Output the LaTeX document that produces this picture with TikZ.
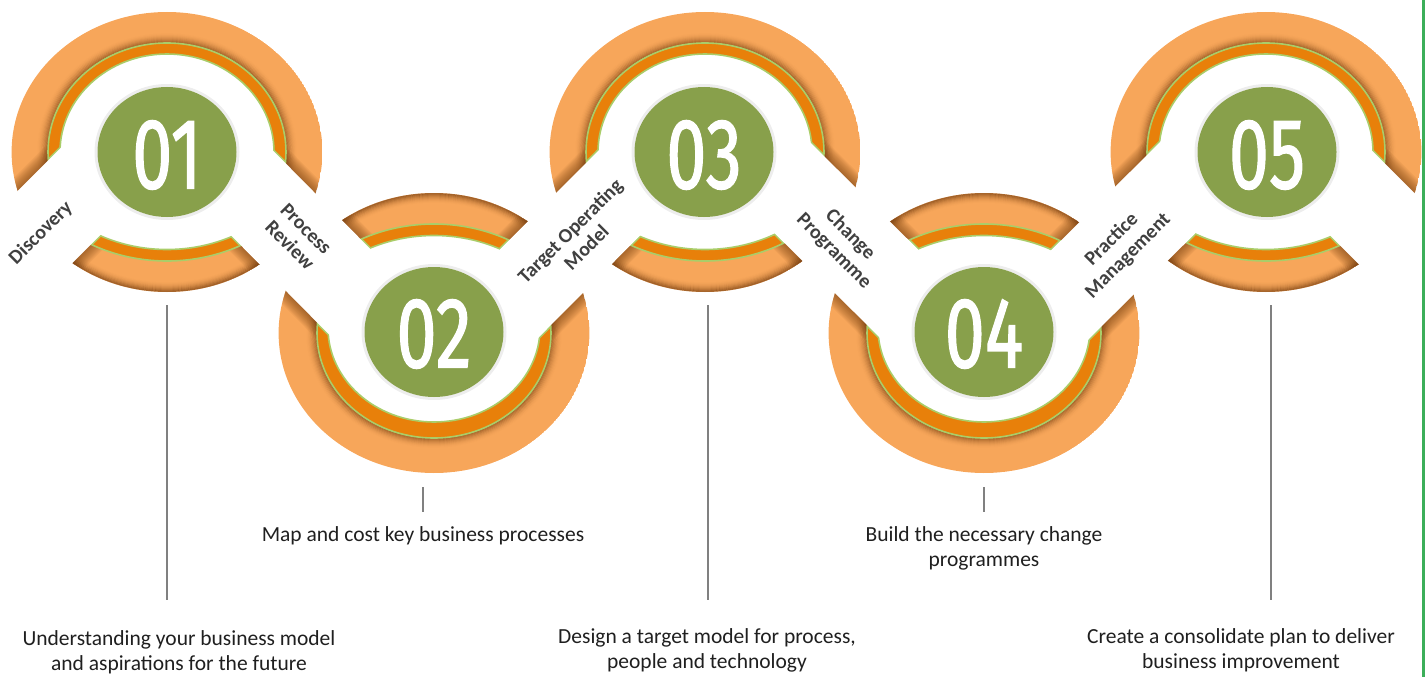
\documentclass[tikz,border=0pt]{standalone}
\usepackage{fontspec}
\usepackage{graphicx}
\setmainfont{Carlito}
\newfontfamily\numfont{Fira Sans}[FakeBold=1.5]
\definecolor{lightor}{RGB}{247,166,90}
\definecolor{darkor}{RGB}{232,128,10}
\definecolor{gline}{RGB}{170,205,105}
\definecolor{gcirc}{RGB}{136,160,75}
\definecolor{shbrown}{RGB}{110,55,10}
\definecolor{labelgray}{RGB}{64,64,64}
\definecolor{edgegreen}{RGB}{60,175,90}
\definecolor{linegray}{RGB}{128,128,128}
\def\ORX{155.4}\def\ORY{140}
\def\BW{89.5}
\newcommand\cutshadow{%
  \foreach \k in {12,...,1}{
    \draw[band, shbrown, opacity=0.06, line width={\BW+2*\k}] (Z0) -- (V1) -- (V2) -- (V3) -- (V4) -- (V5) -- (Z6);
  }}
\newcommand\darkpart[6]{%
  \fill[darkor] (R\i) ++(0,#1) ellipse[x radius=#2, y radius=#3];
  \begin{scope}
    \clip (R\i) ++(0,#1) ellipse[x radius=#2, y radius=#3];
    \draw[band, gline, line width={\BW+3.2}] (Z0) -- (V1) -- (V2) -- (V3) -- (V4) -- (V5) -- (Z6);
  \end{scope}
  \fill[white] (R\i) ++(0,#4) ellipse[x radius=#5, y radius=#6];
  \draw[gline, line width=1.6pt] (R\i) ++(0,#1) ellipse[x radius=#2, y radius=#3];
  \draw[gline, line width=1.6pt] (R\i) ++(0,#4) ellipse[x radius=#5, y radius=#6];
}
\begin{document}
\begin{tikzpicture}[x=1pt,y=-1pt,
  lbl/.style={font=\bfseries\fontsize{20}{23}\selectfont, text=labelgray, align=center, inner sep=0pt},
  desc/.style={font=\fontsize{21.5}{25}\selectfont, text=black!88, align=center, inner sep=0pt},
  numtxt/.style={font=\numfont\fontsize{100}{100}\selectfont, text=white, inner sep=0pt},
  stem/.style={draw=linegray, line width=1.5pt},
  band/.style={line join=bevel}]
\path[use as bounding box] (0,0) rectangle (1425,677);
\clip (0,0) rectangle (1425,677);
% ring centres
\coordinate (R1) at (167,152);
\coordinate (R2) at (434,333);
\coordinate (R3) at (705,152);
\coordinate (R4) at (984,333);
\coordinate (R5) at (1266,152);
% circle centres
\coordinate (C1) at (167,152);
\coordinate (C2) at (434,332);
\coordinate (C3) at (704,152);
\coordinate (C4) at (984,332);
\coordinate (C5) at (1267,152);
% zigzag vertices
\coordinate (Z0) at (-154,426);
\coordinate (V1) at (166,106);
\coordinate (V2) at (435,378);
\coordinate (V3) at (708,104);
\coordinate (V4) at (985,379);
\coordinate (V5) at (1262,104);
\coordinate (Z6) at (1582,424);
% rings
\foreach \i/\s/\hoff/\hrx/\hry/\drx/\dry in
   {1/1/0/107/98/119/109, 2/-1/-5/106/94/117/105, 3/1/0/107/98/119/109,
    4/-1/-5/106/94/117/105, 5/1/0/107/98/119/109}{
  \pgfmathsetmacro\dy{600*\s}
  \pgfmathsetmacro\soff{-40*\s}
  \begin{scope}
    \clip (R\i) ellipse[x radius=\ORX, y radius=\ORY];
    \fill[lightor] (R\i) ellipse[x radius=\ORX, y radius=\ORY];
    % large arc
    \begin{scope}[even odd rule]
      \clip (-700,-1200) rectangle (2100,1800) (V\i) -- ++(-600,\dy) -- ++(1200,0) -- cycle;
      \cutshadow
      \foreach \k in {0,...,9}{
        \pgfmathsetmacro\op{0.5*(1-\k/10)^2}
        \pgfmathsetmacro\ry{\dry+\k+0.5}
        \pgfmathsetmacro\rx{\drx+1.1*(\k+0.5)}
        \draw[shbrown, line width=1.3pt, draw opacity=\op] (R\i) ellipse[x radius=\rx, y radius=\ry];
      }
      \darkpart{0}{\drx}{\dry}{\hoff}{\hrx}{\hry}
    \end{scope}
    % small arc
    \begin{scope}
      \clip (V\i) -- ++(-600,\dy) -- ++(1200,0) -- cycle;
      \cutshadow
      \foreach \k in {0,...,9}{
        \pgfmathsetmacro\op{0.55*(1-\k/10)^2}
        \pgfmathsetmacro\ry{\ORY-\k-0.5}
        \pgfmathsetmacro\rx{\ORX-1.11*(\k+0.5)}
        \draw[shbrown, line width=1.3pt, draw opacity=\op] (R\i) ellipse[x radius=\rx, y radius=\ry];
      }
      \darkpart{\soff}{165.4}{149}{\soff}{152.6}{137.5}
    \end{scope}
  \end{scope}
}
% white zigzag ribbon
\draw[band, white, line width=\BW] (Z0) -- (V1) -- (V2) -- (V3) -- (V4) -- (V5) -- (Z6);
% green discs and numbers
\foreach \i in {1,...,5}{
  \draw[black, opacity=0.07, line width=3pt] (C\i) ellipse[x radius=71, y radius=66.5];
  \fill[gcirc] (C\i) ellipse[x radius=69.5, y radius=65];
}
\node[numtxt] (N1) at (167,155) {\scalebox{0.72}[1]{01}};
\node[numtxt] (N2) at (434,334) {\scalebox{0.72}[1]{02}};
\node[numtxt] (N3) at (704,155) {\scalebox{0.72}[1]{03}};
\node[numtxt] (N4) at (984,334) {\scalebox{0.72}[1]{04}};
\node[numtxt] (N5) at (1267,155) {\scalebox{0.72}[1]{05}};
% ribbon labels
\node[lbl, rotate=45]  (L1) at (41,233) {Discovery};
\node[lbl, rotate=-45] (L2) at (298,237) {Process\\Review};
\node[lbl, rotate=45]  (L3) at (578,239) {Target Operating\\Model};
\node[lbl, rotate=-45] (L4) at (842,243) {Change\\Programme};
\node[lbl, rotate=45]  (L5) at (1120,248) {Practice\\Management};
% descriptions
\node[desc] (D1) at (179,652) {Understanding your business model\\and aspirations for the future};
\node[desc] (D2) at (423,536) {Map and cost key business processes};
\node[desc] (D3) at (707,650) {Design a target model for process,\\people and technology};
\node[desc] (D4) at (984,548) {Build the necessary change\\programmes};
\node[desc] (D5) at (1241,650) {Create a consolidate plan to deliver\\business improvement};
% stems
\coordinate (T1) at (167,305); \coordinate (B1) at (167,600);
\coordinate (T2) at (423,487); \coordinate (B2) at (423,512);
\coordinate (T3) at (708,305); \coordinate (B3) at (708,600);
\coordinate (T4) at (984,487); \coordinate (B4) at (984,512);
\coordinate (T5) at (1271,305); \coordinate (B5) at (1271,600);
\foreach \i in {1,...,5}{ \draw[stem] (T\i) -- (B\i); }
% right edge rule
\coordinate (E1) at (1423,0); \coordinate (E2) at (1423,677);
\draw[edgegreen, line width=3pt] (E1) -- (E2);
\end{tikzpicture}
\end{document}
